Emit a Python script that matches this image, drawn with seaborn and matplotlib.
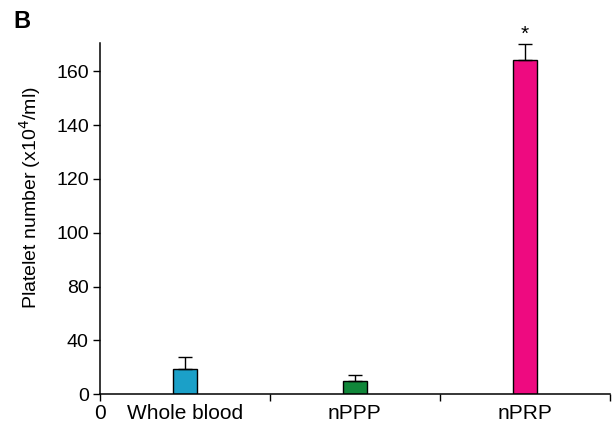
import numpy as np
import pandas as pd
import matplotlib
matplotlib.use('Agg')
import matplotlib.pyplot as plt
import seaborn as sns

groups = ['Whole blood', 'nPPP', 'nPRP']
platelets = [18.8, 9.9, 164.3]
errors = [9.0, 4.6, 5.8]
bar_colors = ['#1ba0c8', '#11873a', '#ee0a80']
tick_values = [0, 40, 80, 100, 120, 140, 160]

df = pd.DataFrame({'group': groups, 'platelets': platelets})

sns.set_style('ticks')
plt.rcParams['font.family'] = ['Liberation Sans', 'DejaVu Sans']
plt.rcParams['text.color'] = 'black'
plt.rcParams['axes.labelcolor'] = 'black'
plt.rcParams['xtick.color'] = 'black'
plt.rcParams['ytick.color'] = 'black'

# the original axis is not linear: ticks are evenly spaced but labelled 0,40,80,100,...
scale_vals = [-40, 0, 40, 80, 100, 120, 140, 160, 200]
scale_pos = [-1, 0, 1, 2, 3, 4, 5, 6, 8]


def fwd(v):
    return np.interp(v, scale_vals, scale_pos)


def inv(p):
    return np.interp(p, scale_pos, scale_vals)


fig = plt.figure(figsize=(6.13, 4.3), dpi=100)
ax = fig.add_axes([0.163, 0.083, 0.832, 0.816])

sns.barplot(data=df, x='group', y='platelets', hue='group', palette=bar_colors,
            saturation=1, width=0.14, edgecolor='black', linewidth=1,
            legend=False, ax=ax)

ax.errorbar(range(len(groups)), platelets, yerr=[[0] * len(groups), errors],
            fmt='none', ecolor='black', elinewidth=1, capsize=5, capthick=1)

ax.set_yscale('function', functions=(fwd, inv))
ax.set_ylim(0, 170.3)
ax.set_yticks(tick_values)
ax.set_yticklabels([str(v) for v in tick_values])
ax.set_xlim(-0.5, 2.5)

ax.set_xticks(range(len(groups)))
ax.set_xticklabels(groups)
ax.tick_params(axis='x', which='major', length=5, color=(0, 0, 0, 0),
               labelsize=15, pad=2)
ax.set_xticks([-0.5, 0.5, 1.5, 2.5], minor=True)
ax.set_xticklabels(['0', '', '', ''], minor=True)
ax.tick_params(axis='x', which='minor', length=5, width=1, labelsize=15, pad=2)
ax.tick_params(axis='y', length=5, width=1, labelsize=14, pad=3)

for s in ['top', 'right']:
    ax.spines[s].set_visible(False)
for s in ['left', 'bottom']:
    ax.spines[s].set_linewidth(1.1)
    ax.spines[s].set_color('black')

ax.set_xlabel('')
ax.set_ylabel('Platelet number (x10$^{4}$/ml)', fontsize=14)
ax.yaxis.set_label_coords(-0.112, 0.559)

ax.text(2, 173.5, '*', ha='center', va='center', fontsize=15, clip_on=False)
fig.text(0.022, 0.95, 'B', fontsize=17, fontweight='bold', ha='left', va='center')

fig.savefig('out.png', dpi=100)
